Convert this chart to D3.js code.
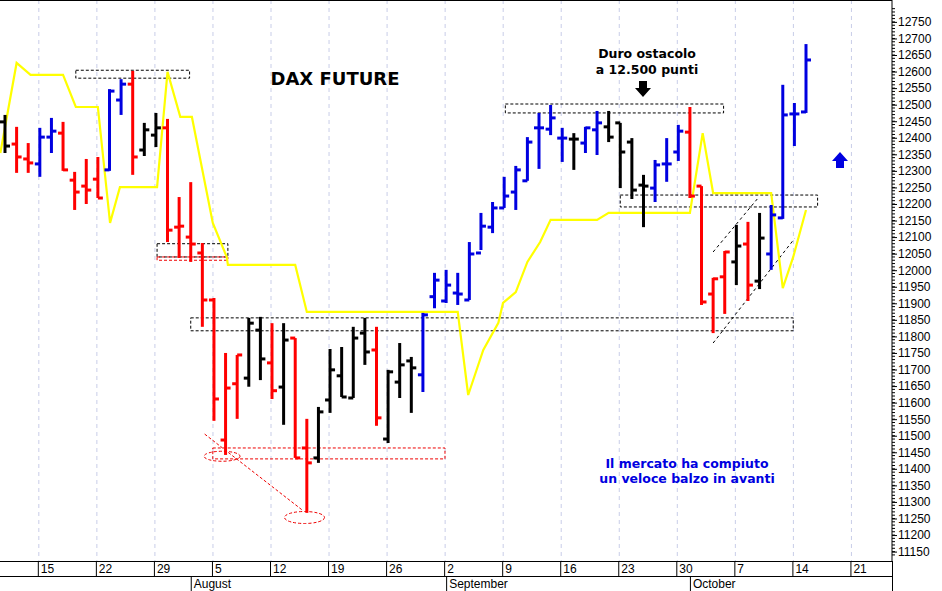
<!DOCTYPE html>
<html><head><meta charset="utf-8">
<script src="https://cdn.jsdelivr.net/npm/d3@7"></script>
<style>body{margin:0;background:#fff}svg{display:block;font-family:Arial,"Liberation Sans",sans-serif}.ann{font-family:"DejaVu Sans",Verdana,sans-serif}</style>
</head><body><svg id="c" width="942" height="591"></svg>
<script>
// OHLC bars: [open, high, low, close]
const opens  = [12448,12381,12336,12321,12402,12414,12272,12254,12275,12303,12514,12562,12363,12408,12430,12130,12100,12052,11910,11487,11657,11674,11819,11720,11647,11795,11463,11433,11608,11681,11614,11810,11759,11490,11662,11726,11684,11920,11907,11931,11910,12052,12130,12188,12236,12270,12430,12426,12399,12396,12384,12424,12433,12445,12387,12257,12248,12321,12357,12417,12254,11928,11980,12025,12079,11967,12049,12158,12472,12478];
const highs  = [12469,12433,12384,12430,12460,12448,12297,12336,12342,12547,12577,12602,12445,12475,12457,12221,12266,12082,11916,11750,11744,11856,11859,11840,11840,11795,11551,11587,11762,11768,11829,11856,11829,11699,11780,11738,11871,11992,12001,11992,12085,12173,12206,12282,12315,12402,12475,12499,12430,12414,12433,12481,12481,12445,12399,12288,12333,12399,12439,12493,12254,11977,12058,12137,12146,12173,12197,12560,12505,12683];
const lows   = [12354,12294,12294,12282,12354,12300,12182,12200,12218,12300,12469,12288,12345,12372,12085,12037,12025,11829,11545,11442,11551,11648,11668,11611,11533,11433,11267,11418,11569,11617,11614,11714,11530,11478,11614,11569,11632,11885,11901,11895,11910,12061,12112,12188,12182,12270,12306,12408,12327,12303,12354,12348,12387,12248,12215,12130,12206,12267,12330,12218,11895,11810,11868,11955,11907,11943,12001,12155,12375,12475];
const closes = [12375,12342,12324,12402,12420,12303,12236,12242,12218,12541,12562,12342,12424,12430,12121,12133,12079,11910,11611,11644,11744,11840,11732,11636,11789,11433,11418,11572,11699,11617,11795,11753,11554,11693,11714,11705,11865,11970,11955,11928,12049,12133,12188,12224,12303,12387,12430,12460,12399,12396,12430,12445,12402,12357,12242,12254,12318,12321,12420,12224,11904,11974,12055,12073,11955,12097,12167,12469,12472,12635];
const barColors = "KRRBBRRRRBBRKKRRRRRRRKKRKRRKKKKKRKKKBBBBBBBBBBBBBKBBKKKKBBBRRRRKRKBBBB";
// trailing line: [bar index, value]
const lineIdx = [-0.4,1.0,2.2,5.0,6.1,8.0,9.05,9.9,13.1,14.0,15.1,16.1,17.9,19.1,19.2,25.0,26.0,39.0,39.9,41.2,42.5,42.9,44.0,45.0,46.1,47.0,51.0,52.0,59.0,60.1,61.0,66.0,67.0,67.9,69.0];
const lineVal = [12354,12626,12590,12590,12493,12493,12143,12251,12251,12599,12463,12463,12143,12040,12016,12016,11874,11874,11623,11759,11841,11901,11934,12025,12085,12152,12152,12173,12173,12414,12233,12233,11946,12040,12182];
// weekly ticks: [bar index, label]
const weekIdx = [3,8,13,18,23,28,33,38,43,48,53,58,63,68,73];
const weekLbl = ["15","22","29","5","12","19","26","2","9","16","23","30","7","14","21"];
const monthIdx = [16,38,59];
const monthLbl = ["August","September","October"];
// zones: [i0,i1,vTop,vBottom,color]
const zones = [[6.1,15.9,12604,12580,"#000"],[13.1,19.2,12080,12040,"#000"],[13.1,19.2,12040,12030,"#e00"],[16.0,67.9,11856,11817,"#000"],[17.9,37.9,11463,11430,"#e00"],[43.1,61.9,12502,12475,"#000"],[53.0,70.0,12227,12191,"#000"]];

const svg = d3.select("#c");
const W=892, H=561;
const x = d3.scaleLinear().domain([0,69]).range([5,806]);
const y = d3.scaleLinear().domain([11150,12750]).range([551.6,21.9]);
const col = {K:"#000",R:"#ff0000",B:"#0000e0"};

svg.append("g").selectAll("line").data(weekIdx).join("line")
 .attr("x1",d=>x(d)-1).attr("x2",d=>x(d)-1).attr("y1",0).attr("y2",H)
 .attr("stroke","#c8cde8").attr("stroke-dasharray","4,4");

zones.forEach(z=>{
  svg.append("rect").attr("x",x(z[0])).attr("y",y(z[2])).attr("width",x(z[1])-x(z[0])).attr("height",y(z[3])-y(z[2]))
   .attr("fill","none").attr("stroke",z[4]).attr("stroke-dasharray","3,2").attr("stroke-width",1);
});
svg.append("ellipse").attr("cx",x(18.7)).attr("cy",y(11438)).attr("rx",18).attr("ry",5).attr("fill","none").attr("stroke","#e00").attr("stroke-dasharray","3,2");
svg.append("ellipse").attr("cx",x(25.8)).attr("cy",y(11253)).attr("rx",20).attr("ry",6).attr("fill","none").attr("stroke","#e00").attr("stroke-dasharray","3,2");
svg.append("line").attr("x1",x(17.2)).attr("y1",y(11505)).attr("x2",x(25.7)).attr("y2",y(11273)).attr("stroke","#e00").attr("stroke-dasharray","3,2");
svg.append("line").attr("x1",x(61)).attr("y1",y(12055)).attr("x2",x(64.8)).attr("y2",y(12215)).attr("stroke","#000").attr("stroke-dasharray","3,3");
svg.append("line").attr("x1",x(61)).attr("y1",y(11780)).attr("x2",x(68)).attr("y2",y(12095)).attr("stroke","#000").attr("stroke-dasharray","3,3");

svg.append("path").datum(lineIdx.map((d,i)=>[d,lineVal[i]]))
 .attr("d",d3.line().x(d=>x(d[0])).y(d=>y(d[1]))).attr("fill","none").attr("stroke","#ffff00").attr("stroke-width",2.2);

const g = svg.append("g");
opens.forEach((o,i)=>{
  const c = col[barColors[i]], cx = x(i);
  g.append("line").attr("x1",cx).attr("x2",cx).attr("y1",y(highs[i])).attr("y2",y(lows[i])).attr("stroke",c).attr("stroke-width",3);
  g.append("line").attr("x1",cx-5).attr("x2",cx).attr("y1",y(o)).attr("y2",y(o)).attr("stroke",c).attr("stroke-width",3);
  g.append("line").attr("x1",cx).attr("x2",cx+5).attr("y1",y(closes[i])).attr("y2",y(closes[i])).attr("stroke",c).attr("stroke-width",3);
});

svg.append("line").attr("x1",0).attr("x2",W).attr("y1",0.5).attr("y2",0.5).attr("stroke","#000");
const yAxis = d3.axisRight(y).tickValues(d3.range(11150,12751,50)).tickSize(5).tickFormat(d3.format("d"));
const ya = svg.append("g").attr("transform",`translate(${W},0)`).call(yAxis);
ya.select(".domain").attr("d",`M0,0V${H}`);
ya.selectAll("text").attr("font-size",12).attr("x",6).attr("fill","#000").attr("font-family","Arial, Liberation Sans");
svg.append("g").attr("transform",`translate(${W},0)`).selectAll("line").data(d3.range(11140,12800,10)).join("line")
 .attr("x1",0).attr("x2",3).attr("y1",d=>y(d)).attr("y2",d=>y(d)).attr("stroke","#000");

svg.append("line").attr("x1",0).attr("x2",W).attr("y1",H+0.5).attr("y2",H+0.5).attr("stroke","#000");
svg.append("line").attr("x1",0).attr("x2",W).attr("y1",576.5).attr("y2",576.5).attr("stroke","#000");
svg.append("line").attr("x1",W+0.5).attr("x2",W+0.5).attr("y1",H).attr("y2",591).attr("stroke","#000");
svg.append("g").selectAll("line").data(weekIdx).join("line")
 .attr("x1",d=>x(d)-1.5).attr("x2",d=>x(d)-1.5).attr("y1",H).attr("y2",576).attr("stroke","#000");
svg.append("g").selectAll("text").data(weekIdx).join("text")
 .attr("x",d=>x(d)+1).attr("y",573).attr("font-size",12).text((d,i)=>weekLbl[i]);
svg.append("g").selectAll("line").data(monthIdx).join("line")
 .attr("x1",d=>x(d)+0.5).attr("x2",d=>x(d)+0.5).attr("y1",576).attr("y2",591).attr("stroke","#000");
svg.append("g").selectAll("text").data(monthIdx).join("text")
 .attr("x",d=>x(d)+3).attr("y",588).attr("font-size",12).text((d,i)=>monthLbl[i]);

svg.append("text").attr("class","ann").attr("x",335).attr("y",85).attr("text-anchor","middle").attr("font-size",18).attr("font-weight","bold").text("DAX FUTURE");
svg.append("text").attr("class","ann").attr("x",647).attr("y",58).attr("text-anchor","middle").attr("font-size",12.5).attr("font-weight","bold").text("Duro ostacolo");
svg.append("text").attr("class","ann").attr("x",647).attr("y",74).attr("text-anchor","middle").attr("font-size",12.5).attr("font-weight","bold").text("a 12.500 punti");
svg.append("path").attr("d","M639,81h8v7h4l-8,9l-8,-9h4z").attr("fill","#000");
svg.append("path").attr("d","M836,168h8v-7h4l-8,-9l-8,9h4z").attr("fill","#0000e0");
svg.append("text").attr("class","ann").attr("x",687).attr("y",468).attr("text-anchor","middle").attr("font-size",12.5).attr("font-weight","bold").attr("fill","#0000e0").text("Il mercato ha compiuto");
svg.append("text").attr("class","ann").attr("x",687).attr("y",483).attr("text-anchor","middle").attr("font-size",12.5).attr("font-weight","bold").attr("fill","#0000e0").text("un veloce balzo in avanti");
</script></body></html>
